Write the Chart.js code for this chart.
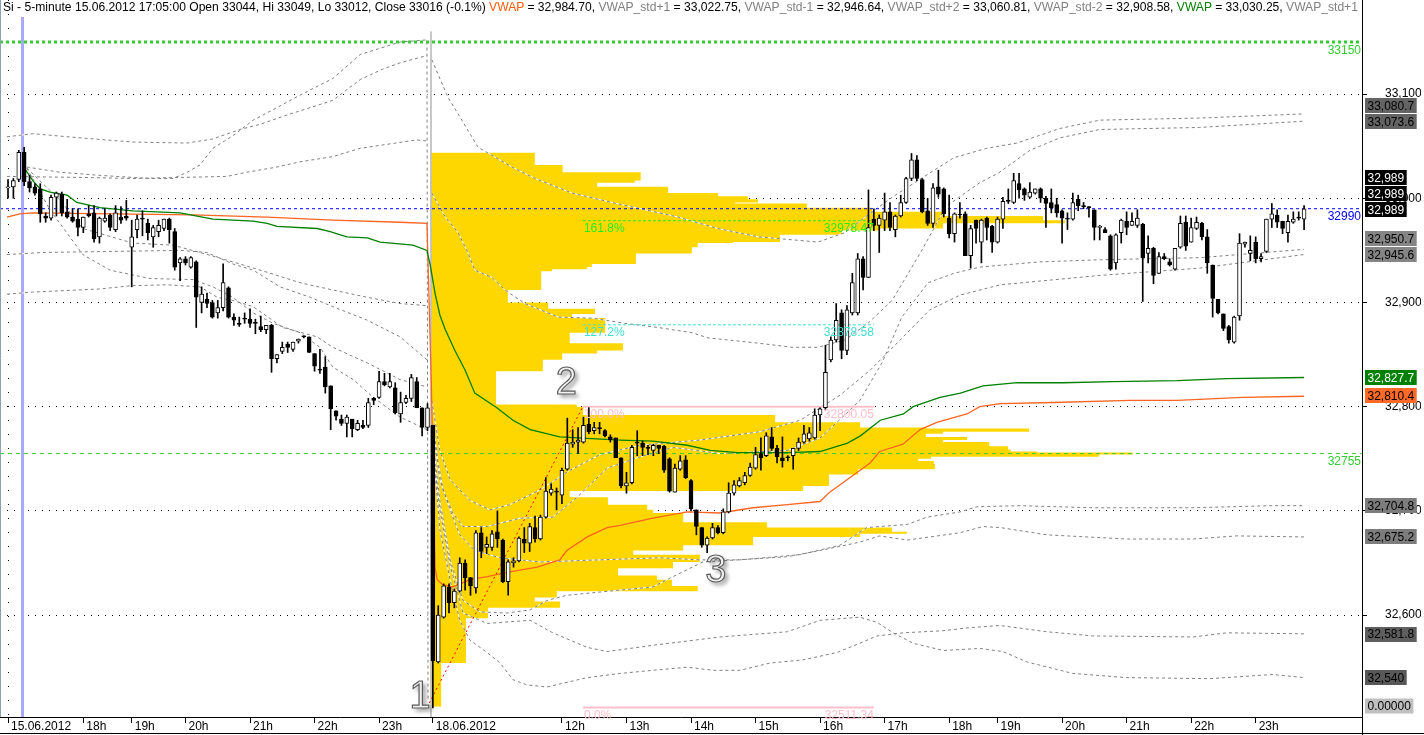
<!DOCTYPE html>
<html>
<head>
<meta charset="utf-8">
<title>Si - 5-minute</title>
<script src="https://cdn.jsdelivr.net/npm/chart.js@4.4.1/dist/chart.umd.min.js"></script>
<style>
  html, body { margin: 0; padding: 0; background: #fff; }
  #contenedor { position: relative; width: 1424px; height: 735px; overflow: hidden; }
  #grafico { position: absolute; left: 0; top: 0; }
  #cabecera {
    position: absolute; left: 3px; top: 0px; z-index: 2;
    font: 12.1px "Liberation Sans", Arial, sans-serif; line-height: 15px;
    white-space: nowrap; color: #000;
  }
  .naranja { color: #ff5a0a; }
  .gris    { color: #808080; }
  .verde   { color: #008000; }
</style>
</head>
<body>
<div id="contenedor">
  <canvas id="grafico" width="1424" height="735"></canvas>
  <div id="cabecera">Si - 5-minute 15.06.2012 17:05:00 Open 33044, Hi 33049, Lo 33012, Close 33016 (-0.1%) <span class="naranja">VWAP</span> = 32,984.70, <span class="gris">VWAP_std+1</span> = 33,022.75, <span class="gris">VWAP_std-1</span> = 32,946.64, <span class="gris">VWAP_std+2</span> = 33,060.81, <span class="gris">VWAP_std-2</span> = 32,908.58, <span class="verde">VWAP</span> = 33,030.25, <span class="gris">VWAP_std+1</span></div>
</div>
<script>
// Eje de tiempo: número de barra donde cae cada marca
const ticksX     = [0, 14, 23, 33, 45, 57, 69, 79, 103, 115, 127, 139, 151, 163, 175, 184, 196, 208, 220, 232];
const etiquetasX = ['15.06.2012', '18h', '19h', '20h', '21h', '22h', '23h', '18.06.2012', '12h', '13h', '14h',
                    '15h', '16h', '17h', '18h', '19h', '20h', '21h', '22h', '23h'];

// Velas de 5 minutos [apertura, máximo, mínimo, cierre]
const velasSesion1 = [
  [33010,33018,33000,33011],[33011,33019,33000,33017],[33018,33046,33016,33044],[33044,33049,33012,33016],
  [33016,33022,33006,33010],[33011,33014,33003,33005],[33009,33014,32977,32985],[32983,32986,32977,32981],
  [32981,33003,32979,33001],[33001,33006,32983,33005],[33004,33006,32983,32986],[32987,32999,32981,32982],
  [32982,32990,32977,32978],[32980,32990,32964,32972],[32972,32982,32967,32982],[32985,32993,32982,32983],
  [32986,32993,32958,32961],[32963,32982,32957,32981],[32978,32990,32977,32981],[32984,32985,32969,32972],
  [32970,32993,32968,32986],[32982,32992,32976,32979],[32983,32998,32979,32981],[32953,32979,32915,32963],
  [32970,32984,32962,32980],[32980,32988,32964,32980],[32976,32980,32960,32967],[32963,32974,32953,32972],
  [32968,32979,32963,32974],[32971,32980,32969,32980],[32980,32981,32957,32970],[32968,32971,32931,32934],
  [32938,32943,32921,32942],[32942,32944,32936,32938],[32934,32944,32933,32943],[32939,32940,32876,32905],
  [32900,32915,32890,32908],[32903,32909,32895,32899],[32900,32902,32885,32886],[32890,32902,32885,32895],
  [32895,32937,32892,32919],[32914,32915,32885,32886],[32886,32889,32878,32883],[32880,32886,32877,32879],
  [32884,32890,32880,32884],[32884,32894,32876,32880],[32880,32884,32870,32880],[32877,32887,32872,32874],
  [32874,32878,32870,32878],[32878,32879,32833,32846],[32846,32850,32842,32850],[32853,32862,32851,32857],
  [32860,32862,32852,32857],[32855,32862,32853,32862],[32863,32865,32861,32865],[32867,32868,32866,32867],
  [32867,32867,32852,32852],[32851,32851,32834,32839],[32835,32855,32832,32835],[32838,32848,32813,32819],
  [32820,32820,32778,32798],[32796,32796,32787,32791],[32788,32792,32782,32784],[32784,32792,32771,32790],
  [32788,32788,32771,32779],[32778,32787,32777,32784],[32782,32787,32779,32780],[32782,32808,32780,32804],
  [32808,32809,32802,32806],[32809,32834,32808,32824],[32824,32832,32820,32821],[32819,32832,32818,32824],
  [32818,32823,32793,32794],[32793,32814,32785,32804],[32804,32811,32803,32808],[32808,32831,32805,32828],
  [32824,32828,32799,32799],[32799,32799,32772,32780],[32780,32803,32777,32799]
];
const velasSesion2 = [
  [32782,32782,32511,32556],[32555,32609,32554,32600],[32598,32630,32597,32628],[32627,32630,32602,32612],
  [32612,32625,32607,32623],[32623,32655,32622,32650],[32650,32653,32624,32636],[32636,32636,32619,32628],
  [32626,32681,32621,32679],[32679,32684,32655,32661],[32665,32675,32659,32668],[32665,32681,32662,32678],
  [32680,32700,32665,32673],[32672,32673,32631,32632],[32632,32653,32619,32651],[32650,32655,32646,32652],
  [32652,32675,32651,32674],[32673,32684,32660,32669],[32669,32688,32661,32685],[32684,32695,32670,32673],
  [32673,32696,32672,32694],[32694,32732,32693,32719],[32717,32726,32715,32721],[32718,32722,32701,32718],
  [32715,32741,32707,32739],[32740,32789,32739,32765],[32764,32778,32761,32766],[32766,32780,32755,32768],
  [32766,32790,32765,32782],[32783,32799,32774,32776],[32777,32785,32774,32780],[32779,32785,32774,32779],
  [32777,32778,32771,32772],[32771,32773,32766,32768],[32770,32770,32751,32751],[32751,32751,32722,32724],
  [32724,32737,32717,32727],[32727,32763,32726,32761],[32765,32777,32753,32765],[32765,32767,32753,32761],
  [32760,32763,32754,32760],[32758,32764,32753,32763],[32763,32763,32755,32760],[32762,32763,32737,32739],
  [32750,32751,32718,32719],[32718,32745,32718,32741],[32740,32753,32739,32748],[32749,32753,32731,32732],
  [32729,32730,32700,32702],[32701,32701,32677,32685],[32684,32684,32665,32667],[32667,32675,32660,32674],
  [32674,32688,32673,32684],[32684,32686,32678,32679],[32679,32702,32678,32699],[32699,32727,32698,32717],
  [32717,32729,32715,32725],[32724,32732,32723,32729],[32727,32737,32725,32734],[32734,32746,32733,32742],
  [32741,32761,32740,32754],[32755,32770,32739,32751],[32753,32775,32752,32772],[32771,32780,32758,32760],
  [32760,32763,32746,32752],[32751,32771,32742,32748],[32751,32753,32748,32751],[32753,32760,32740,32760],
  [32760,32770,32758,32766],[32766,32782,32765,32774],[32769,32780,32767,32775],[32770,32798,32769,32792],
  [32792,32799,32777,32798],[32799,32859,32797,32833],[32845,32867,32843,32864],[32864,32899,32862,32883],
  [32890,32893,32846,32854],[32854,32897,32850,32893],[32890,32928,32888,32919],[32890,32947,32888,32942],
  [32942,32944,32912,32924],[32924,33008,32924,32972],[32980,32990,32969,32974],[32974,32984,32948,32981],
  [32979,33005,32969,32987],[32987,32996,32969,32972],[32970,32984,32963,32983],[32983,33003,32982,32996],
  [32996,33020,32995,33019],[33019,33043,33017,33037],[33037,33041,33017,33019],[33018,33019,32986,32987],
  [32988,33000,32974,32976],[32976,33014,32972,33010],[33011,33027,33001,33004],[33009,33010,32982,32985],
  [32981,33003,32962,32966],[32966,32986,32958,32985],[32984,32996,32981,32984],[32985,32987,32945,32945],
  [32945,32974,32933,32971],[32979,32979,32957,32971],[32958,32980,32938,32979],[32981,32982,32960,32972],
  [32973,32974,32948,32958],[32958,32982,32957,32980],[32980,33001,32971,32997],[32997,33009,32995,32997],
  [32996,33024,32995,33017],[33014,33024,33000,33008],[33009,33010,32998,33003],[33001,33015,33000,33006],
  [33005,33009,33004,33009],[33009,33010,32996,33000],[33000,33002,32972,32995],[32996,33009,32986,32991],
  [32994,33000,32982,32986],[32988,32989,32957,32981],[32980,32986,32970,32980],[32980,33005,32979,32996],
  [32999,33003,32988,32993],[32992,32996,32990,32992],[32991,32992,32982,32991],[32989,32989,32960,32972],
  [32972,32974,32960,32973],[32970,32972,32967,32967],[32964,32965,32931,32932],[32938,32966,32932,32965],
  [32967,32980,32957,32979],[32978,32987,32965,32972],[32974,32986,32974,32978],[32974,32989,32972,32981],
  [32975,32976,32901,32943],[32947,32964,32938,32952],[32952,32953,32918,32926],[32928,32948,32928,32944],
  [32944,32947,32941,32942],[32939,32942,32935,32936],[32932,32952,32931,32952],[32953,32983,32952,32976],
  [32977,32983,32950,32954],[32958,32981,32958,32972],[32971,32982,32970,32977],[32976,32977,32960,32963],
  [32963,32970,32928,32938],[32936,32936,32886,32904],[32903,32903,32889,32890],[32889,32889,32873,32875],
  [32877,32878,32861,32864],[32862,32887,32861,32886],[32887,32966,32883,32957],[32956,32958,32953,32958],
  [32947,32964,32940,32950],[32958,32963,32938,32942],[32942,32947,32939,32944],[32949,32980,32948,32980],
  [32980,32995,32972,32985],[32984,32989,32972,32977],[32978,32978,32966,32971],[32967,32984,32958,32978],
  [32977,32987,32976,32980],[32981,32987,32979,32981],[32980,32993,32970,32990]
];

// VWAP [barra, precio]
const vwapVerde = [
  [3.3,33027],[4.6,33017],[6.0,33009],[7.8,33006],[11.0,33003],[12.8,32996],[17.1,32991],[23.2,32988],
  [32.0,32986],[38.1,32980],[45.6,32978],[48.2,32976],[50.0,32973],[57.5,32971],[59.9,32968],[63.0,32963],
  [66.8,32962],[69.2,32958],[75.3,32955],[77.9,32950],[78.5,32936],[79.4,32909],[80.3,32888],[81.3,32874],
  [83.1,32854],[85.0,32835],[86.8,32813],[90.9,32799],[93.9,32787],[97.1,32778],[102.6,32771],[113.8,32768],
  [119.9,32767],[126.3,32763],[130.6,32758],[135.6,32756],[144.9,32756],[151.0,32757],[156.1,32765],
  [158.5,32772],[162.2,32787],[166.5,32793],[168.3,32800],[173.3,32809],[177.1,32813],[181.3,32820],
  [187.7,32823],[196.2,32823],[205.5,32824],[217.4,32825],[226.7,32827],[241.0,32828]
];
const vwapNaranja = [
  [-0.2,32982],[2.2,32985],[4.6,32986],[34.4,32984],[48.2,32982],[60.4,32979],[72.9,32977],[77.9,32976],
  [78.7,32826],[79.4,32646],[79.8,32634],[80.9,32629],[82.7,32627],[85.9,32634],[89.1,32637],[92.8,32641],
  [98.4,32646],[102.6,32653],[103.9,32662],[107.7,32675],[111.4,32684],[113.8,32686],[119.9,32693],
  [126.3,32699],[132.4,32698],[138.5,32703],[144.9,32706],[151.0,32709],[152.8,32718],[157.1,32734],
  [160.3,32746],[162.1,32757],[166.4,32764],[169.6,32778],[172.7,32785],[178.3,32793],[180.7,32800],
  [184.5,32803],[194.3,32804],[208.6,32806],[217.4,32806],[229.6,32809],[241.0,32810]
];

// Bandas de desviación del VWAP (líneas grises punteadas)
const bandasSesion1 = [
  [[3.5,33030],[9.7,33025],[17.1,33022],[26.4,33019],[30.7,33019],[33.3,33025],[35.7,33032],[38.1,33048],
   [41.8,33060],[45.6,33075],[50.0,33087],[54.3,33099],[60.4,33115],[65.5,33138],[69.2,33144],[72.9,33150],
   [77.9,33152],[78.1,32518]],
  [[-0.2,33059],[4.6,33062],[13.4,33058],[23.2,33054],[33.3,33053],[38.1,33057],[43.1,33066],[46.9,33071],
   [51.9,33080],[56.2,33087],[60.4,33094],[65.5,33114],[69.7,33124],[72.9,33130],[77.9,33137]],
  [[-0.2,33021],[13.9,33020],[23.2,33019],[40.7,33021],[44.4,33025],[50.0,33030],[54.3,33035],[60.4,33040],
   [65.5,33048],[76.0,33056],[77.9,33055]],
  [[3.5,33029],[9.7,32998],[13.9,32971],[23.2,32957],[30.7,32955],[35.7,32948],[41.8,32939],[48.2,32929],
   [54.3,32919],[60.4,32912],[66.8,32905],[72.9,32899],[77.9,32897]],
  [[-0.2,32946],[6.5,32948],[32.0,32950],[37.0,32948],[41.8,32937],[45.6,32931],[50.6,32915],[56.2,32905],
   [60.4,32896],[66.8,32883],[72.9,32867],[77.9,32845]],
  [[-0.2,32908],[4.6,32910],[17.1,32913],[22.7,32916],[29.6,32917],[35.7,32915],[38.9,32905],[41.8,32902],
   [45.6,32896],[51.1,32876],[57.5,32867],[60.4,32857],[66.8,32842],[72.9,32826],[77.9,32819]],
  [[3.5,33029],[7.8,32989],[13.9,32946],[19.0,32931],[26.4,32923],[34.4,32922],[38.1,32915],[41.8,32905],
   [45.6,32890],[49.3,32880],[54.3,32871],[58.0,32857],[60.4,32838],[64.2,32826],[67.9,32809],[72.9,32790],
   [77.9,32778]]
];
const bandasSesion2 = [
  [[78.8,33133],[81.8,33097],[84.4,33075],[87.4,33049],[93.7,33030],[98.0,33019],[104.9,33005],[112.3,32996],
   [124.6,32982],[132.0,32971],[139.5,32963],[150.6,32958],[155.6,32967],[159.9,32984],[164.4,33001],
   [169.8,33019],[175.9,33039],[182.0,33048],[187.6,33053],[195.6,33067],[203.0,33075],[221.6,33077],[241.0,33081]],
  [[78.8,33005],[81.3,32982],[83.7,32967],[85.5,32948],[86.8,32931],[90.0,32924],[92.4,32912],[96.1,32899],
   [102.3,32886],[108.6,32885],[114.7,32880],[120.9,32876],[127.2,32871],[130.2,32866],[139.5,32861],
   [145.8,32857],[150.6,32857],[155.6,32864],[159.9,32880],[164.4,32902],[169.8,32949],[174.4,32992],
   [180.7,33015],[184.1,33024],[190.0,33046],[195.6,33058],[203.0,33066],[221.6,33068],[241.0,33074]],
  [[79.0,32784],[80.0,32746],[80.9,32720],[82.7,32698],[84.6,32685],[89.1,32685],[95.2,32693],[101.3,32694],
   [105.8,32713],[111.4,32741],[117.0,32751],[123.7,32761],[132.4,32755],[144.9,32758],[151.0,32770],
   [156.0,32794],[158.4,32806],[162.5,32842],[166.2,32886],[171.1,32919],[175.9,32928],[180.7,32934],
   [191.9,32939],[203.1,32941],[221.6,32943],[241.0,32951]],
  [[78.8,32806],[80.3,32758],[82.2,32730],[85.9,32710],[89.6,32701],[93.3,32706],[98.9,32720],[104.5,32739],
   [110.1,32754],[117.5,32763],[128.7,32768],[139.8,32776],[147.3,32787],[154.7,32811],[160.3,32835],
   [165.9,32864],[171.4,32893],[177.0,32907],[184.5,32917],[203.1,32926],[221.6,32933],[241.0,32946]],
  [[79.0,32778],[80.3,32730],[82.2,32701],[84.0,32677],[86.8,32662],[91.5,32655],[98.9,32651],[110.1,32653],
   [121.2,32655],[128.7,32653],[136.1,32653],[147.3,32658],[154.7,32667],[159.7,32684],[167.2,32687],
   [170.9,32694],[177.0,32699],[180.2,32704],[188.2,32705],[201.7,32703],[220.3,32703],[234.7,32705],[241.0,32705]],
  [[79.0,32768],[80.3,32710],[82.2,32653],[84.6,32614],[87.8,32603],[92.8,32602],[97.1,32605],[100.2,32614],
   [103.9,32619],[113.8,32624],[119.9,32627],[123.7,32637],[129.2,32651],[135.6,32653],[144.9,32656],
   [151.0,32662],[158.4,32670],[162.1,32676],[167.2,32672],[177.0,32679],[181.3,32685],[184.5,32684],
   [193.2,32677],[208.1,32673],[220.3,32673],[228.5,32676],[241.0,32675]],
  [[79.0,32763],[80.3,32682],[82.2,32634],[84.0,32595],[85.9,32576],[89.1,32564],[91.5,32554],[93.9,32538],
   [96.5,32533],[100.2,32531],[107.7,32540],[113.8,32544],[119.9,32547],[126.3,32550],[131.1,32547],
   [136.1,32547],[141.7,32554],[147.8,32557],[154.1,32564],[158.4,32573],[161.6,32580],[166.5,32583],
   [173.9,32585],[178.9,32588],[184.5,32590],[193.2,32584],[201.7,32580],[220.3,32579],[226.7,32583],[241.0,32582]],
  [[79.0,32758],[80.3,32701],[82.2,32648],[84.6,32602],[89.1,32592],[97.1,32595],[101.3,32583],[107.7,32569],
   [111.4,32565],[119.9,32571],[132.4,32579],[144.9,32584],[151.0,32595],[158.4,32598],[161.6,32593],
   [164.6,32583],[168.3,32573],[173.9,32566],[180.7,32568],[185.0,32565],[189.5,32555],[198.0,32544],
   [208.1,32540],[223.5,32539],[235.2,32543],[241.0,32540]]
];

// Perfil de volumen de la sesión del 18.06 (niveles de precio y volumen en anchos de barra)
const perfilInicio  = 78.65;
const perfilNiveles = [33044,33032,33025,33017,33015,33011,33005,33002,32999,32996,32995,32991,32987,32983,
  32979,32976,32971,32969,32965,32958,32957,32953,32947,32937,32934,32932,32930,32912,32900,32894,32889,32885,
  32871,32861,32854,32851,32845,32834,32802,32800,32792,32785,32780,32779,32776,32774,32771,32768,32766,32762,
  32759,32757,32756,32754,32752,32750,32748,32745,32740,32735,32724,32719,32713,32706,32701,32698,32689,32684,
  32680,32678,32675,32667,32662,32658,32651,32645,32638,32634,32628,32623,32617,32613,32607,32597,32554,32512];
const perfilVolumen = [19.3,24.5,39.0,37.9,30.9,44.1,53.4,58.9,60.8,56.5,69.9,82.0,95.2,113.8,117.9,95.2,83.5,
  76.4,64.9,56.2,49.6,48.5,38.1,29.9,29.0,22.5,20.5,14.3,21.8,30.5,26.2,32.4,25.8,35.7,30.9,24.4,20.8,12.1,27.1,
  28.3,64.0,79.8,92.2,111.2,95.2,92.0,99.7,95.2,103.8,107.3,107.8,112.7,130.5,124.2,93.0,90.6,93.5,93.7,79.4,
  74.0,69.2,25.8,32.9,40.2,41.3,46.9,62.5,85.7,88.5,79.8,59.9,46.9,37.6,50.0,45.0,34.8,42.0,44.8,49.6,23.4,19.3,
  24.0,10.6,6.5,1.9];

// Niveles horizontales
const nivelAzul     = 32990;
const nivelVerde    = 32755;
const nivelPunteado = 33150;

// Fibonacci entre el punto 1 y el punto 2
const fibInicio      = 106.9;
const fibFin         = 161.0;
const fibPorcentajes = ['0.0%', '100.0%', '127.2%', '161.8%'];
const fibPrecios     = [32511.34, 32800.05, 32878.58, 32978.47];
const tendencia      = [[77.9, 32511.34], [106.9, 32800.05]];

// Marcas 1, 2, 3
const marcasTexto  = ['1', '2', '3'];
const marcasBarra  = [76.6, 103.8, 131.6];
const marcasPrecio = [32521, 32822, 32642];

// Valores actuales en el eje derecho
const cajasValor = [33080.7, 33073.6, 32989, 32989, 32989, 32950.7, 32945.6, 32827.7, 32810.4,
                    32704.8, 32675.2, 32581.8, 32540];
const valorIndicador = 0;

// Límites de los ejes
const xMin = -1.49, xMax = 251.77;
const yMin = 32502.2, yMax = 33190.3;

// Colores de las cajas del eje
const cajasFondo = ['#646464','#646464','#000','#000','#000','#858585','#858585','#008000','#ff6a28',
                    '#7d7d7d','#7d7d7d','#5e5e5e','#585858'];
const cajasTinta = ['#000','#000','#fff','#fff','#fff','#000','#000','#fff','#000','#000','#000','#000','#000'];

const fuente = '"Liberation Sans", Arial, sans-serif';
Chart.defaults.font.family = fuente;
Chart.defaults.font.size = 12;

document.addEventListener('DOMContentLoaded', function () {
  const velas = velasSesion1.concat(velasSesion2);
  const datasets = [];

  // Cuerpos y mechas de las velas
  datasets.push({
    type: 'bar', order: 0, grouped: false,
    data: velas.map((v, i) => ({ x: i, y: [v[0], v[3]] })),
    backgroundColor: velas.map(v => v[3] > v[0] ? '#fff' : '#000'),
    borderColor: '#000', borderWidth: 1, borderSkipped: false,
    barThickness: 4, minBarLength: 1
  });
  datasets.push({
    type: 'bar', order: 1, grouped: false,
    data: velas.map((v, i) => ({ x: i, y: [v[2], v[1]] })),
    backgroundColor: '#000', borderWidth: 0, barThickness: 1
  });

  // VWAP
  datasets.push(linea(vwapVerde, '#008000', [], 1.3, 2));
  datasets.push(linea(vwapNaranja, '#ff6420', [], 1.3, 2));

  // Niveles horizontales y Fibonacci
  datasets.push(linea([[xMin, nivelAzul], [xMax, nivelAzul]], '#0000ff', [3, 3], 1, 3));
  datasets.push(linea([[xMin, nivelVerde], [xMax, nivelVerde]], '#33cc33', [4, 4], 1, 3));
  datasets.push(linea([[xMin, nivelPunteado], [xMax, nivelPunteado]], '#33cc33', [3, 3], 3, 3));
  const fibColor = ['#ffc0cb', '#ffc0cb', '#40e0d0', '#22ee22'];
  const fibTrazo = [[], [], [3, 2], [3, 2]];
  const fibAncho = [2, 2, 1, 1];
  fibPrecios.forEach((p, k) => {
    datasets.push(linea([[fibInicio, p], [fibFin, p]], fibColor[k], fibTrazo[k], fibAncho[k], 3));
  });
  datasets.push(linea(tendencia, '#ff0000', [2, 3], 1, 3));

  // Bandas: línea blanca debajo para que se vea el punteado sobre el perfil
  bandasSesion1.concat(bandasSesion2).forEach(b => {
    datasets.push(linea(b, '#808080', [3, 3], 1, 4));
    datasets.push(linea(b, '#ffffff', [], 1, 5));
  });

  // Líneas verticales (debajo de la cabecera)
  datasets.push(linea([[2.7, yMin], [2.7, 33174]], '#a8a8ff', [], 3, 6));
  datasets.push(linea([[perfilInicio, 33160], [perfilInicio, yMin]], '#c0c0c0', [], 1, 6));

  // Perfil de volumen: contorno escalonado relleno hasta el inicio de la sesión
  const contorno = [];
  perfilVolumen.forEach((v, k) => {
    contorno.push({ x: perfilInicio + v, y: perfilNiveles[k] });
    contorno.push({ x: perfilInicio + v, y: perfilNiveles[k + 1] });
  });
  datasets.push({
    type: 'line', order: 7, indexAxis: 'y', data: contorno,
    borderColor: 'rgba(0,0,0,0)', borderWidth: 0, pointRadius: 0, tension: 0,
    backgroundColor: '#ffd700', fill: { value: perfilInicio }
  });

  new Chart(document.getElementById('grafico'), {
    type: 'bar',
    data: { datasets },
    options: {
      responsive: false,
      animation: false,
      events: [],
      layout: { padding: { left: 0, top: 0, right: 3, bottom: 2 } },
      plugins: { legend: { display: false }, tooltip: { enabled: false } },
      scales: {
        x: {
          type: 'linear', position: 'bottom', min: xMin, max: xMax, offset: false,
          afterBuildTicks: s => { s.ticks = ticksX.map(v => ({ value: v })); },
          afterFit: s => { s.height = 16; s.paddingLeft = 0; s.paddingRight = 0; },
          ticks: {
            autoSkip: false, maxRotation: 0, minRotation: 0, align: 'start', labelOffset: 3,
            padding: -4, color: '#000', font: { size: 12 },
            callback: (v, i) => etiquetasX[i]
          },
          grid: {
            offset: false, lineWidth: 1, tickLength: 6, tickColor: '#000',
            color: c => c.index === 0 ? '#000' : 'rgba(0,0,0,0)'
          },
          border: { color: '#000', width: 1, dash: [1, 13] }
        },
        y: {
          type: 'linear', position: 'right', min: yMin, max: yMax, z: 1,
          afterFit: s => { s.width = 59; s.paddingTop = 0; s.paddingBottom = 0; },
          ticks: {
            stepSize: 100, includeBounds: false, padding: 18, crossAlign: 'near',
            color: '#000', font: { size: 12 },
            callback: v => v.toLocaleString('en-US')
          },
          grid: { color: '#000', tickColor: '#000', tickLength: 5 },
          border: { color: '#000', width: 1, dash: [1, 6] }
        }
      }
    },
    plugins: [pluginEtiquetas, pluginCajas]
  });
});

/**
 * Dataset de línea a partir de pares [barra, precio]
 */
function linea(puntos, color, trazo, ancho, orden) {
  return {
    type: 'line', order: orden,
    data: puntos.map(p => ({ x: p[0], y: p[1] })),
    borderColor: color, borderWidth: ancho, borderDash: trazo,
    pointRadius: 0, tension: 0, fill: false
  };
}

function texto(ctx, t, x, y, color, alinear, base) {
  ctx.fillStyle = color;
  ctx.textAlign = alinear;
  ctx.textBaseline = base;
  ctx.fillText(t, x, y);
}

/**
 * Textos del área del gráfico: niveles, Fibonacci y marcas 1-2-3
 */
const pluginEtiquetas = {
  id: 'etiquetas',
  afterDraw(chart) {
    const { ctx, chartArea } = chart;
    const xs = chart.scales.x, ys = chart.scales.y;
    ctx.save();
    ctx.font = '12px ' + fuente;

    texto(ctx, String(nivelPunteado), chartArea.right - 1, ys.getPixelForValue(nivelPunteado) + 3, '#33cc33', 'right', 'top');
    texto(ctx, String(nivelAzul), chartArea.right - 1, ys.getPixelForValue(nivelAzul) + 2, '#0000ff', 'right', 'top');
    texto(ctx, String(nivelVerde), chartArea.right - 1, ys.getPixelForValue(nivelVerde) + 2, '#33cc33', 'right', 'top');

    const fibColor = ['#ffc0cb', '#ffc0cb', '#40e0d0', '#22ee22'];
    fibPrecios.forEach((p, k) => {
      const y = ys.getPixelForValue(p) + 2;
      texto(ctx, fibPorcentajes[k], xs.getPixelForValue(fibInicio) + 1, y, fibColor[k], 'left', 'top');
      texto(ctx, p.toFixed(2), xs.getPixelForValue(fibFin), y, fibColor[k], 'right', 'top');
    });

    // Números grandes con contorno y sombra
    marcasTexto.forEach((t, k) => {
      const x = xs.getPixelForValue(marcasBarra[k]);
      const y = ys.getPixelForValue(marcasPrecio[k]);
      ctx.save();
      ctx.font = '38px ' + fuente;
      ctx.textAlign = 'center';
      ctx.textBaseline = 'middle';
      ctx.shadowColor = 'rgba(0,0,0,0.45)';
      ctx.shadowBlur = 4;
      ctx.shadowOffsetX = 3;
      ctx.shadowOffsetY = 3;
      ctx.fillStyle = '#f2f2f2';
      ctx.fillText(t, x, y);
      ctx.shadowColor = 'rgba(0,0,0,0)';
      ctx.lineWidth = 1.2;
      ctx.strokeStyle = '#5a5a5a';
      ctx.strokeText(t, x, y);
      ctx.restore();
    });

    // Bordes exteriores
    ctx.strokeStyle = '#000';
    ctx.lineWidth = 1;
    ctx.beginPath();
    ctx.moveTo(0, 733.5); ctx.lineTo(chart.width, 733.5);
    ctx.moveTo(chartArea.right + 0.5, chartArea.bottom); ctx.lineTo(chartArea.right + 0.5, chart.height);
    ctx.stroke();
    ctx.strokeStyle = '#8fa0b5';
    ctx.beginPath();
    ctx.moveTo(0.5, 0); ctx.lineTo(0.5, chartArea.bottom);
    ctx.stroke();
    ctx.restore();
  }
};

/**
 * Cajas con los valores actuales en el eje de precios (se apilan si se solapan)
 */
const pluginCajas = {
  id: 'cajas',
  afterDraw(chart) {
    const { ctx, chartArea } = chart;
    const ys = chart.scales.y;
    const alto = 15;
    const x = chartArea.right + 3;
    ctx.save();
    ctx.font = '12px ' + fuente;
    ctx.textBaseline = 'middle';
    ctx.textAlign = 'left';

    const orden = cajasValor.map((v, i) => i).sort((a, b) => cajasValor[a] - cajasValor[b]);
    let techo = Infinity;
    orden.forEach(i => {
      let y = ys.getPixelForValue(cajasValor[i]);
      if (y + alto / 2 > techo - 1) y = techo - 1 - alto / 2;
      techo = y - alto / 2;
      const t = cajasValor[i].toLocaleString('en-US', { maximumFractionDigits: 1 });
      const ancho = ctx.measureText(t).width + 5;
      ctx.fillStyle = cajasFondo[i];
      ctx.fillRect(x, Math.round(y - alto / 2), ancho, alto);
      ctx.fillStyle = cajasTinta[i];
      ctx.fillText(t, x + 2.5, Math.round(y) + 0.5);
    });

    const t = valorIndicador.toFixed(5);
    const ancho = ctx.measureText(t).width + 5;
    const y = chartArea.bottom - 11;
    ctx.fillStyle = '#c0c0c0';
    ctx.fillRect(x, y - alto / 2, ancho, alto);
    ctx.fillStyle = '#000';
    ctx.fillText(t, x + 2.5, y + 0.5);
    ctx.restore();
  }
};
</script>
</body>
</html>
